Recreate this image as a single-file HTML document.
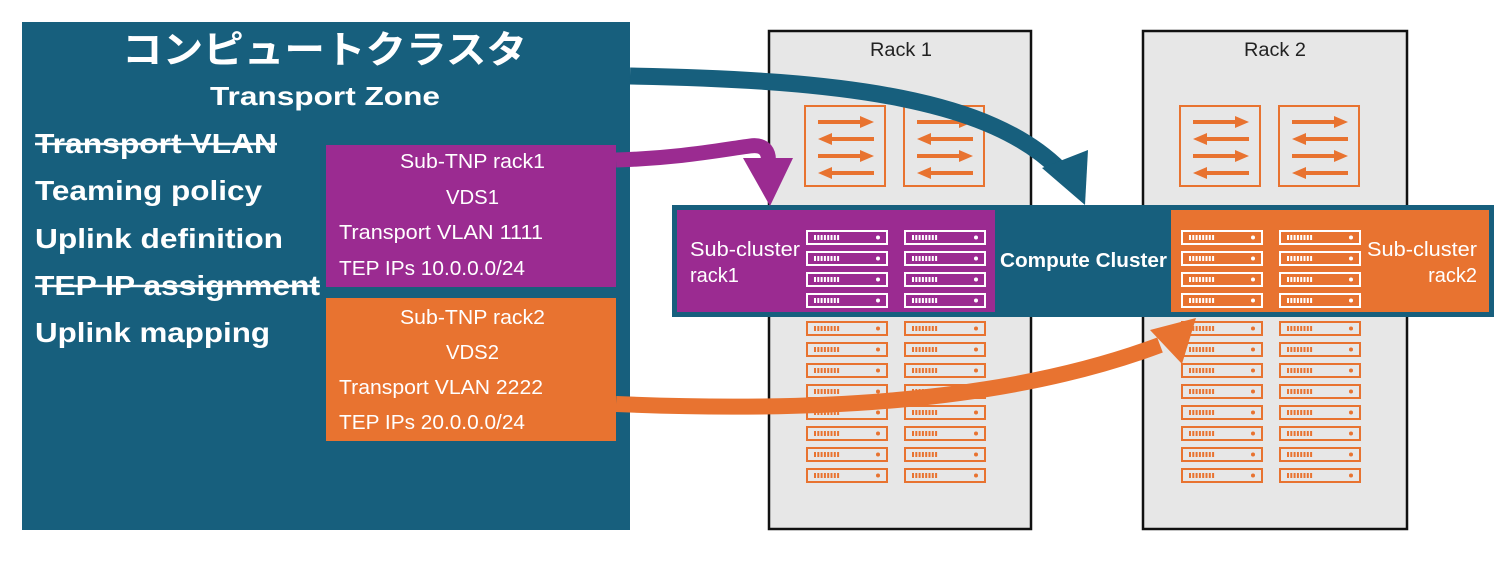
<!DOCTYPE html>
<html><head><meta charset="utf-8"><style>
html,body{margin:0;padding:0;background:#fff;}
svg{display:block;}
text{font-family:"Liberation Sans","Noto Sans CJK JP",sans-serif;}
</style></head><body>
<svg width="1498" height="567" viewBox="0 0 1498 567" xmlns="http://www.w3.org/2000/svg">
<defs>
<g id="srvO"><rect x="1" y="1" width="80" height="13" fill="none" stroke="#e87330" stroke-width="2"/><line x1="8" y1="7.5" x2="34" y2="7.5" stroke="#e87330" stroke-width="5" stroke-dasharray="2 1.3"/><circle cx="72" cy="7.5" r="2" fill="#e87330"/></g>
<g id="srvW"><rect x="1" y="1" width="80" height="13" fill="none" stroke="#fff" stroke-width="2"/><line x1="8" y1="7.5" x2="34" y2="7.5" stroke="#fff" stroke-width="5" stroke-dasharray="2 1.3"/><circle cx="72" cy="7.5" r="2" fill="#fff"/></g>
<g id="sw"><rect x="1" y="1" width="80" height="80" fill="none" stroke="#e87330" stroke-width="2"/>
<path d="M14 17H58" stroke="#e87330" stroke-width="4"/><path d="M56 11L70 17L56 23Z" fill="#e87330"/>
<path d="M26 34H70" stroke="#e87330" stroke-width="4"/><path d="M28 28L14 34L28 40Z" fill="#e87330"/>
<path d="M14 51H58" stroke="#e87330" stroke-width="4"/><path d="M56 45L70 51L56 57Z" fill="#e87330"/>
<path d="M26 68H70" stroke="#e87330" stroke-width="4"/><path d="M28 62L14 68L28 74Z" fill="#e87330"/></g>
<g id="col8"><use href="#srvO" y="0"/><use href="#srvO" y="21"/><use href="#srvO" y="42"/><use href="#srvO" y="63"/><use href="#srvO" y="84"/><use href="#srvO" y="105"/><use href="#srvO" y="126"/><use href="#srvO" y="147"/></g>
<g id="col4w"><use href="#srvW" y="0"/><use href="#srvW" y="21"/><use href="#srvW" y="42"/><use href="#srvW" y="63"/></g>
</defs>

<rect x="22" y="22" width="608" height="508" fill="#175f7d"/>
<text x="122" y="63" fill="#fff" font-size="38" font-weight="bold" textLength="405" lengthAdjust="spacingAndGlyphs">コンピュートクラスタ</text>
<text x="210" y="105" fill="#fff" font-size="26" font-weight="bold" textLength="230" lengthAdjust="spacingAndGlyphs">Transport Zone</text>
<g fill="#fff" font-size="28" font-weight="bold">
<text x="35" y="153" textLength="242" lengthAdjust="spacingAndGlyphs">Transport VLAN</text>
<text x="35" y="200" textLength="227" lengthAdjust="spacingAndGlyphs">Teaming policy</text>
<text x="35" y="248" textLength="248" lengthAdjust="spacingAndGlyphs">Uplink definition</text>
<text x="35" y="295" textLength="285" lengthAdjust="spacingAndGlyphs">TEP IP assignment</text>
<text x="35" y="342" textLength="235" lengthAdjust="spacingAndGlyphs">Uplink mapping</text>
</g>
<line x1="35" y1="144" x2="277" y2="144" stroke="#fff" stroke-width="2.5"/>
<line x1="35" y1="286" x2="320" y2="286" stroke="#fff" stroke-width="2.5"/>

<rect x="326" y="145" width="290" height="142" fill="#9b2b91"/>
<g fill="#fff" font-size="20">
<text x="400" y="168" textLength="145" lengthAdjust="spacingAndGlyphs">Sub-TNP rack1</text>
<text x="446" y="204" textLength="53" lengthAdjust="spacingAndGlyphs">VDS1</text>
<text x="339" y="239" textLength="204" lengthAdjust="spacingAndGlyphs">Transport VLAN 1111</text>
<text x="339" y="275" textLength="186" lengthAdjust="spacingAndGlyphs">TEP IPs 10.0.0.0/24</text>
</g>
<rect x="326" y="298" width="290" height="143" fill="#e87330"/>
<g fill="#fff" font-size="20">
<text x="400" y="324" textLength="145" lengthAdjust="spacingAndGlyphs">Sub-TNP rack2</text>
<text x="446" y="359" textLength="53" lengthAdjust="spacingAndGlyphs">VDS2</text>
<text x="339" y="394" textLength="204" lengthAdjust="spacingAndGlyphs">Transport VLAN 2222</text>
<text x="339" y="429" textLength="186" lengthAdjust="spacingAndGlyphs">TEP IPs 20.0.0.0/24</text>
</g>

<rect x="769" y="31" width="262" height="498" fill="#e7e7e7" stroke="#111" stroke-width="2.5"/>
<rect x="1143" y="31" width="264" height="498" fill="#e7e7e7" stroke="#111" stroke-width="2.5"/>
<text x="870" y="56" font-size="19" fill="#222" textLength="62" lengthAdjust="spacingAndGlyphs">Rack 1</text>
<text x="1244" y="56" font-size="19" fill="#222" textLength="62" lengthAdjust="spacingAndGlyphs">Rack 2</text>
<use href="#sw" x="804" y="105"/><use href="#sw" x="903" y="105"/>
<use href="#sw" x="1179" y="105"/><use href="#sw" x="1278" y="105"/>
<use href="#col8" x="806" y="321"/><use href="#col8" x="904" y="321"/>
<use href="#col8" x="1181" y="321"/><use href="#col8" x="1279" y="321"/>

<rect x="672" y="205" width="822" height="112" fill="#175f7d"/>
<rect x="677" y="210" width="318" height="102" fill="#9b2b91"/>
<rect x="1171" y="210" width="318" height="102" fill="#e87330"/>
<use href="#col4w" x="806" y="230"/><use href="#col4w" x="904" y="230"/>
<use href="#col4w" x="1181" y="230"/><use href="#col4w" x="1279" y="230"/>
<text x="690" y="256" fill="#fff" font-size="20" textLength="110" lengthAdjust="spacingAndGlyphs">Sub-cluster</text>
<text x="690" y="282" fill="#fff" font-size="20">rack1</text>
<text x="1000" y="267" fill="#fff" font-size="20" font-weight="bold" textLength="167" lengthAdjust="spacingAndGlyphs">Compute Cluster</text>
<text x="1367" y="256" fill="#fff" font-size="20" textLength="110" lengthAdjust="spacingAndGlyphs">Sub-cluster</text>
<text x="1477" y="282" fill="#fff" font-size="20" text-anchor="end">rack2</text>

<path d="M630 76 C850 80 990 100 1060 170" fill="none" stroke="#175f7d" stroke-width="17"/>
<path d="M1042 168 L1088 150 L1085 205 Z" fill="#175f7d"/>
<path d="M616 160 C680 158 720 150 750 146 C765 144 770 152 768 165" fill="none" stroke="#9b2b91" stroke-width="15"/>
<path d="M743 158 L793 158 L770 206 Z" fill="#9b2b91"/>
<path d="M616 404 C800 412 1000 405 1160 345" fill="none" stroke="#e87330" stroke-width="16"/>
<path d="M1150 330 L1196 318 L1182 364 Z" fill="#e87330"/>
</svg>
</body></html>
